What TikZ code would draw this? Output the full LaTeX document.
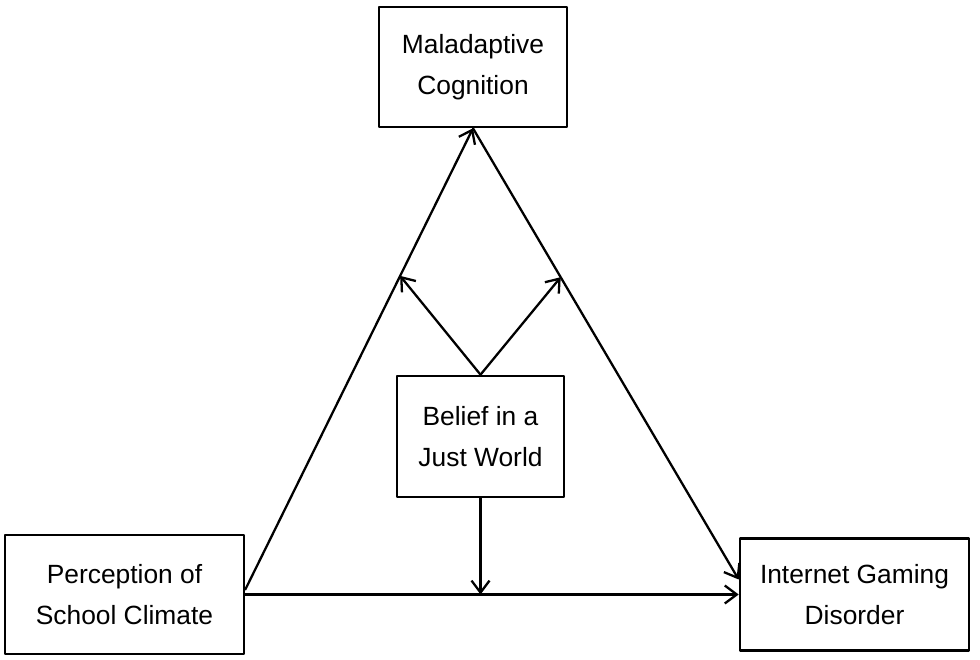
\documentclass[tikz,border=0pt]{standalone}
\usepackage{fontspec}
\setmainfont{Liberation Sans}
\usepackage{tikz}
\usetikzlibrary{arrows.meta,positioning,calc}
\tikzset{
    every picture/.style={line cap=round,line join=round},
    varbox/.style={draw=black,fill=white,line width=1.5pt,inner sep=2pt,
      font=\fontsize{15}{23}\selectfont,align=center},
    patharrow/.style={-{Straight Barb[length=2.4mm,width=3.6mm,line width=1.3pt]},
      draw=black,line width=1.3pt}
}
\begin{document}
\begin{tikzpicture}
  \useasboundingbox (0,0) rectangle (19.6,13.18);

  \node[varbox,minimum width=3.76cm,minimum height=2.4cm] (mal) at (9.46,11.84) {Maladaptive\\Cognition};
  \node[varbox,minimum width=3.34cm,minimum height=2.42cm] (bjw) at (9.61,4.45) {Belief in a\\Just World};
  \node[varbox,minimum width=4.78cm,minimum height=2.38cm] (psc) at (2.49,1.29) {Perception of\\School Climate};
  \node[varbox,minimum width=4.58cm,minimum height=2.24cm] (igd) at (17.09,1.29) {Internet Gaming\\Disorder};

  % direct and indirect paths
  \draw[patharrow] ([yshift=1mm]psc.east) -- (mal.south);
  \draw[patharrow] (mal.south) -- ([yshift=3mm]igd.west);
  \draw[patharrow] (psc.east) -- (igd.west);

  % moderation by belief in a just world
  \coordinate (m1) at ($([yshift=1mm]psc.east)!0.68!(mal.south)$);
  \coordinate (m2) at ($(mal.south)!0.33!([yshift=3mm]igd.west)$);
  \coordinate (m3) at (bjw.south |- psc.east);
  \draw[patharrow] (bjw.north) -- (m1);
  \draw[patharrow] (bjw.north) -- (m2);
  \draw[patharrow] (bjw.south) -- (m3);
\end{tikzpicture}
\end{document}
